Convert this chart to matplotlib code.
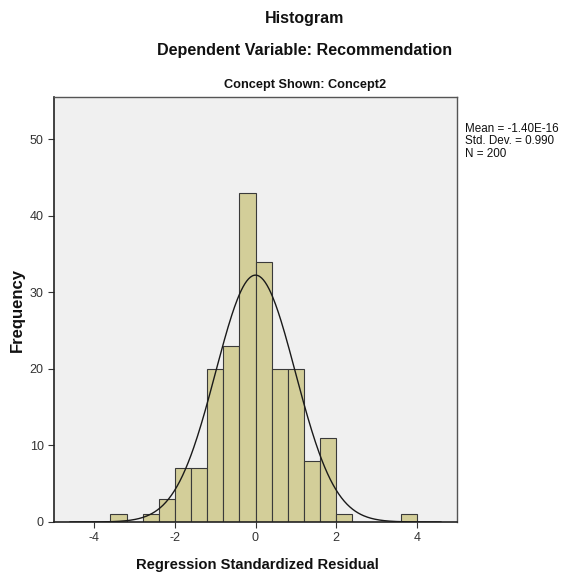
import numpy as np
import matplotlib
matplotlib.use("Agg")
import matplotlib.pyplot as plt
from matplotlib import font_manager

# Data
bin_edges_left = [-3.6, -2.8, -2.4, -2.0, -1.6, -1.2, -0.8, -0.4, 0.0, 0.4, 0.8, 1.2, 1.6, 2.0, 3.6]
counts = [1, 1, 3, 7, 7, 20, 23, 43, 34, 20, 20, 8, 11, 1, 1]
bin_width = 0.4
mean = -1.40e-16
std = 0.990
n = 200
xticks = [-4, -2, 0, 2, 4]
yticks = [0, 10, 20, 30, 40, 50]

names = {f.name for f in font_manager.fontManager.ttflist}
fam = ["Liberation Sans Narrow", "DejaVu Sans"] if "Liberation Sans Narrow" in names else ["Liberation Sans", "DejaVu Sans"]
plt.rcParams['font.family'] = fam
plt.rcParams['axes.unicode_minus'] = False

fig = plt.figure(figsize=(5.63, 5.76), dpi=100)
W, H = 563, 576
ax = fig.add_axes([54 / W, 1 - 522 / H, (457 - 54) / W, (522 - 97) / H])
ax.set_facecolor("#F0F0F0")

ax.bar(bin_edges_left, counts, width=bin_width, align="edge",
       color="#D3CE99", edgecolor="#3a3a3a", linewidth=0.8, zorder=2)

xs = np.linspace(-4.6, 4.6, 400)
ys = n * bin_width / (std * np.sqrt(2 * np.pi)) * np.exp(-0.5 * ((xs - mean) / std) ** 2)
ax.plot(xs, ys, color="#1a1a1a", linewidth=1.0, zorder=3)

ax.set_xlim(-5, 5)
ax.set_ylim(0, 55.5)
ax.set_xticks(xticks)
ax.set_yticks(yticks)
ax.tick_params(axis="both", labelsize=9, colors="#333333", length=4, width=0.8, direction="out")
for side in ["left", "bottom"]:
    ax.spines[side].set_color("#222222")
    ax.spines[side].set_linewidth(1.2)
for side in ["top", "right"]:
    ax.spines[side].set_color("#555555")
    ax.spines[side].set_linewidth(1.0)

fig.text(305 / W, 1 - 18 / H, "Histogram", ha="center", va="center", fontsize=11.5, fontweight="bold", color="#111111")
fig.text(305 / W, 1 - 51 / H, "Dependent Variable: Recommendation", ha="center", va="center", fontsize=11.6, fontweight="bold", color="#111111")
fig.text(305 / W, 1 - 85 / H, "Concept Shown: Concept2", ha="center", va="center", fontsize=9.2, fontweight="bold", color="#111111")
fig.text(257 / W, 1 - 565 / H, "Regression Standardized Residual", ha="center", va="center", fontsize=10.6, fontweight="bold", color="#111111")
fig.text(17 / W, 1 - 310 / H, "Frequency", ha="center", va="center", rotation=90, fontsize=12, fontweight="bold", color="#111111")
fig.text(465 / W, 1 - 123 / H, f"Mean = -1.40E-16\nStd. Dev. = {std:.3f}\nN = {n}",
         ha="left", va="top", fontsize=8.4, color="#111111", linespacing=1.05)

fig.savefig("out.png", dpi=100)
